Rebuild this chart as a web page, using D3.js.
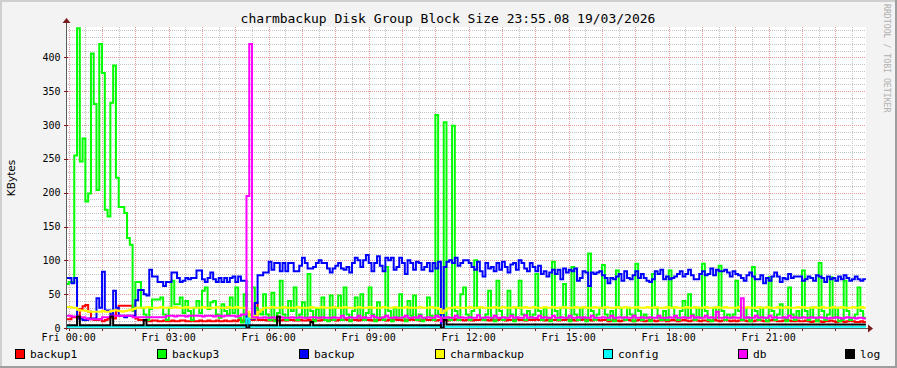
<!DOCTYPE html>
<html><head><meta charset="utf-8">
<script src="https://cdn.jsdelivr.net/npm/d3@7/dist/d3.min.js"></script>
<style>html,body{margin:0;padding:0;background:#f3f3f3;}svg{display:block}</style>
</head><body><svg id="c" width="897" height="368"></svg>
<script>
// ---- DATA (5-minute steps, index 0 = 23:55 Thu, 288 steps) ----
const seriesNames = ["backup1","backup3","backup","charmbackup","config","db","log"];
const seriesColors = ["#FF0000","#00FF00","#0000FF","#FFFF00","#00FFFF","#FF00FF","#000000"];

const backup1 = [
13,13,16,16,16,28,32,34,24,13,12,12,13,10,12,14,16,14,26,33,33,33,33,33,
26,14,12,12,11,11,10,11,11,10,10,11,10,10,11,10,10,11,11,10,10,11,10,10,
11,10,10,11,10,10,11,10,10,11,10,10,11,10,12,11,10,12,14,12,37,12,12,12,
11,12,11,12,11,11,12,11,12,12,11,11,12,11,11,12,11,12,11,11,12,12,11,12,
12,11,12,12,13,12,11,12,12,11,12,13,12,12,11,12,12,13,12,11,12,12,13,12,
12,11,12,12,13,12,12,11,12,13,12,12,12,11,12,14,12,11,12,12,13,12,12,11,
12,12,11,12,12,13,12,12,11,12,12,12,13,12,11,12,12,12,13,12,12,11,12,12,
12,13,12,12,11,12,13,12,12,11,12,12,13,12,12,11,12,12,13,12,12,11,12,12,
11,12,12,10,11,12,11,10,11,12,12,11,10,11,12,11,10,11,12,11,10,11,11,12,
10,11,12,11,10,11,12,11,10,11,12,11,10,11,11,10,11,12,11,10,11,12,11,10,
11,10,11,12,11,10,11,10,11,12,11,10,10,11,12,11,10,10,11,12,11,10,10,11,
10,10,11,10,9,10,11,10,9,10,10,11,10,9,10,10,9,10,11,10,9,9,10,9];

const backup3 = [
65,68,68,255,443,246,280,187,199,406,331,204,420,377,175,165,333,388,222,179,179,170,133,123,
26,68,68,30,20,12,28,42,42,42,45,20,12,30,70,35,35,45,22,40,25,12,30,40,
22,55,60,28,38,40,20,15,35,25,20,45,22,60,15,8,50,8,20,60,30,25,20,50,
20,12,52,10,22,70,20,12,40,25,60,12,20,38,15,80,25,10,28,15,45,12,10,48,
12,30,48,12,60,20,10,25,45,15,50,12,22,60,20,10,38,15,12,90,25,10,30,15,
50,15,10,40,18,48,12,20,10,15,45,18,12,315,20,10,304,15,12,299,25,12,50,60,
20,12,25,100,30,15,12,20,55,15,10,70,25,12,15,55,20,10,30,70,20,12,25,15,
20,80,25,12,30,15,10,98,25,12,30,65,15,10,90,20,12,30,15,10,110,25,12,20,
30,93,20,12,25,10,85,30,15,12,30,20,10,95,25,12,20,15,10,80,30,15,12,25,
12,85,30,15,12,25,40,15,50,20,12,30,15,95,25,12,10,30,15,92,25,12,20,15,
20,70,25,12,30,15,10,90,25,12,30,15,10,75,25,12,20,35,15,10,60,20,12,25,
15,85,25,12,30,15,10,96,25,12,20,75,15,30,10,12,70,25,12,15,20,60,25,15];

const backup = [
74,74,66,74,14,14,12,12,14,14,14,44,30,83,26,26,20,55,30,18,18,16,18,18,
18,41,56,56,50,48,86,76,76,68,68,62,68,68,82,82,74,68,70,74,72,74,74,85,
85,72,68,74,82,72,68,74,68,74,68,74,76,68,76,70,70,0,14,14,37,78,78,82,
82,98,86,96,96,84,96,84,96,96,84,84,92,104,96,88,88,90,96,100,96,96,88,82,
88,92,96,88,86,90,82,96,104,100,90,100,108,96,84,96,106,92,84,104,100,104,86,90,
104,96,80,100,96,86,98,96,86,90,96,84,96,88,98,2,90,98,100,96,104,92,96,100,
100,96,90,86,98,84,76,96,88,90,84,96,86,98,90,82,94,96,86,100,96,88,84,96,
90,84,92,80,84,76,82,86,80,86,72,88,82,86,84,88,70,74,84,82,62,82,80,82,
84,78,74,66,74,72,76,80,70,84,74,72,78,84,74,80,74,70,68,72,84,80,86,72,
76,72,74,76,80,84,76,80,86,78,72,72,80,84,78,80,88,78,86,84,84,86,82,76,
84,80,78,74,70,78,82,76,72,72,78,66,74,70,76,82,76,68,74,72,80,74,76,76,
76,70,72,76,74,70,78,76,74,68,76,72,74,70,76,72,78,74,70,72,76,72,70,72];

const charmbackup = [
31,31,30,30,27,26,26,25,24,24,24,24,24,25,24,24,25,26,26,25,24,25,26,27,
28,30,30,30,30,31,30,30,30,30,31,30,30,30,30,31,30,30,30,31,30,30,30,30,
30,31,30,30,30,30,31,30,30,30,31,30,30,31,30,30,30,24,15,15,18,24,27,30,
30,30,31,30,30,30,31,30,30,30,30,31,30,30,30,30,31,30,30,30,31,30,30,30,
31,30,30,30,31,30,30,30,30,31,30,30,30,31,30,30,30,30,31,30,30,30,31,30,
30,30,31,30,30,30,30,31,30,30,30,31,30,30,28,22,26,29,30,30,31,30,30,30,
30,31,30,30,30,31,30,30,30,30,31,30,30,31,30,30,30,31,30,30,30,31,30,30,
31,30,30,30,31,30,30,31,30,30,30,31,30,30,30,31,30,30,31,30,30,30,31,30,
30,30,31,30,30,30,31,30,30,31,30,30,30,31,30,30,30,31,30,30,31,30,30,30,
31,30,30,31,30,30,30,31,30,30,31,30,30,30,31,30,30,30,31,30,30,31,30,30,
30,30,31,30,30,31,30,30,30,31,30,30,31,30,30,30,31,30,30,31,30,30,30,31,
30,31,30,30,30,31,30,30,31,30,30,30,31,30,30,31,30,30,30,31,30,30,31,30];

const config = [
2,2,2,2,2,2,2,2,2,2,2,2,2,2,2,2,2,2,2,2,2,2,2,2,
2,2,2,2,2,2,2,2,2,2,2,2,2,2,2,2,2,2,2,2,2,2,2,2,
2,2,2,2,2,2,2,2,2,2,2,2,2,2,2,2,2,14,2,2,2,2,2,2,
2,2,2,2,2,2,2,2,2,2,2,2,2,2,2,2,2,2,2,2,2,2,2,2,
2,2,2,2,2,2,2,2,2,2,2,2,2,2,2,2,2,2,2,2,2,2,2,2,
2,2,2,2,2,2,2,2,2,2,2,2,2,2,2,2,2,2,2,2,2,2,2,2,
2,2,2,2,2,2,2,2,2,2,2,2,2,2,2,2,2,2,2,2,2,2,2,2,
2,2,2,2,2,2,2,2,2,2,2,2,2,2,2,2,2,2,2,2,2,2,2,2,
2,2,2,2,2,2,2,2,2,2,2,2,2,2,2,2,2,2,2,2,2,2,2,2,
2,2,2,2,2,2,2,2,2,2,2,2,2,2,2,2,2,2,2,2,2,2,2,2,
2,2,2,2,2,2,2,2,2,2,2,2,2,2,2,2,2,2,2,2,2,2,2,2,
2,2,2,2,2,2,2,2,2,2,2,2,2,2,2,2,2,2,2,2,2,2,2,2];

const db = [
18,18,17,17,16,16,16,14,13,13,13,13,13,16,16,16,18,18,18,18,18,18,18,18,
16,16,16,16,16,16,16,16,16,16,16,16,18,18,18,17,18,18,18,17,18,18,18,18,
18,17,18,18,18,17,18,18,17,18,18,18,18,17,18,20,20,195,420,16,16,15,15,16,
15,15,16,15,15,16,15,15,15,16,15,15,16,15,15,15,16,16,15,15,16,15,15,15,
16,15,15,18,15,15,16,15,15,18,15,16,15,15,18,16,15,15,16,18,15,15,16,15,
15,16,18,15,15,16,15,18,15,15,16,15,15,18,16,10,15,16,15,15,18,15,16,15,
15,16,15,15,19,15,15,16,15,15,18,15,15,16,15,15,18,15,16,15,15,19,15,16,
15,15,18,15,16,15,15,18,15,15,16,15,15,18,15,15,16,15,16,15,15,18,15,15,
15,16,15,15,18,15,15,16,15,16,15,15,18,15,15,16,15,15,16,15,15,18,15,15,
15,16,15,18,15,15,16,15,15,18,15,16,15,15,18,15,16,15,24,15,15,16,15,15,
16,15,15,44,15,16,15,15,18,15,16,15,15,18,15,16,15,15,16,15,18,15,16,15,
15,16,15,15,16,15,15,16,15,15,14,15,15,16,15,14,15,16,15,15,14,15,15,14];

const log = [
4,4,4,4,17,4,4,4,4,4,4,4,4,4,4,4,17,4,4,4,4,4,4,4,
4,4,4,4,12,4,4,4,4,4,4,4,4,4,4,4,4,4,4,4,4,4,4,4,
4,4,4,4,4,4,4,4,4,4,4,4,4,4,4,4,4,0,4,4,4,4,4,4,
4,4,4,4,17,4,4,4,4,4,4,4,4,4,4,4,9,4,4,4,4,4,4,4,
4,4,4,4,4,4,4,4,4,4,4,4,4,4,4,4,4,4,4,4,4,4,4,4,
4,4,4,4,4,4,4,4,4,4,4,4,4,4,4,0,12,5,5,5,5,5,5,5,
5,5,5,5,5,5,5,5,5,5,5,5,5,5,5,5,5,5,5,5,5,5,5,5,
5,5,5,5,5,5,5,5,5,5,5,5,5,5,5,5,5,5,5,5,5,5,5,5,
5,5,5,5,5,5,5,5,5,5,5,5,5,5,5,5,5,5,5,5,5,5,5,5,
5,5,5,5,5,5,5,5,5,5,5,5,5,5,5,5,5,5,5,5,5,5,5,5,
5,5,5,5,5,5,5,5,5,5,5,5,5,5,5,5,5,5,5,5,5,5,5,5,
5,5,5,5,5,5,5,5,5,5,5,5,5,5,5,5,5,5,5,5,5,5,5,5];

const yTickValues = [0,50,100,150,200,250,300,350,400];
const xTickHours = [0,3,6,9,12,15,18,21];
const xTickLabels = ["Fri 00:00","Fri 03:00","Fri 06:00","Fri 09:00","Fri 12:00","Fri 15:00","Fri 18:00","Fri 21:00"];
const titleText = "charmbackup Disk Group Block Size 23:55.08 19/03/2026";
const yAxisTitle = "KBytes";
const watermark = "RRDTOOL / TOBI OETIKER";

// ---- DRAWING ----
const svg = d3.select("#c");
const W = 897, H = 368;
const L = 66, R = 866, T = 27, B = 328;
const STEP = 5; // minutes
const x = d3.scaleLinear().domain([-4.867, 1440 - 4.867]).range([L, R]);
const y = d3.scaleLinear().domain([0, 445]).range([B, T]);
const mono = "'DejaVu Sans Mono', monospace";

// frame
svg.append("rect").attr("x",0).attr("y",0).attr("width",W).attr("height",H).attr("fill","#f3f3f3");
svg.append("rect").attr("x",0).attr("y",0).attr("width",W).attr("height",2).attr("fill","#cfcfcf");
svg.append("rect").attr("x",0).attr("y",0).attr("width",2).attr("height",H).attr("fill","#cfcfcf");
svg.append("rect").attr("x",0).attr("y",H-2).attr("width",W).attr("height",2).attr("fill","#9e9e9e");
svg.append("rect").attr("x",W-2).attr("y",0).attr("width",2).attr("height",H).attr("fill","#9e9e9e");

// canvas
svg.append("rect").attr("x",L).attr("y",T).attr("width",R-L).attr("height",B-T).attr("fill","#ffffff");

// grid
const g = svg.append("g").attr("shape-rendering","crispEdges");
const minorY = d3.range(10, 445, 10).filter(v => v % 50 !== 0);
const majorY = d3.range(50, 445, 50);
g.selectAll(".hmin").data(minorY).join("line")
  .attr("x1",L).attr("x2",R).attr("y1",d=>Math.round(y(d))+0.5).attr("y2",d=>Math.round(y(d))+0.5)
  .attr("stroke","#c4c4c4").attr("stroke-dasharray","1,1");
const minorX = d3.range(-0, 1440, 30).filter(m => m % 60 !== 0);
const majorX = d3.range(0, 1440, 60);
g.selectAll(".vmin").data(minorX).join("line")
  .attr("y1",T).attr("y2",B).attr("x1",d=>Math.round(x(d))+0.5).attr("x2",d=>Math.round(x(d))+0.5)
  .attr("stroke","#c4c4c4").attr("stroke-dasharray","1,1");
g.selectAll(".hmaj").data(majorY).join("line")
  .attr("x1",L).attr("x2",R).attr("y1",d=>Math.round(y(d))+0.5).attr("y2",d=>Math.round(y(d))+0.5)
  .attr("stroke","#e99a9a").attr("stroke-dasharray","1,1");
g.selectAll(".vmaj").data(majorX).join("line")
  .attr("y1",T).attr("y2",B).attr("x1",d=>Math.round(x(d))+0.5).attr("x2",d=>Math.round(x(d))+0.5)
  .attr("stroke","#e99a9a").attr("stroke-dasharray","1,1");

// series
const seriesValues = [backup1, backup3, backup, charmbackup, config, db, log];
const series = seriesNames.map((n,k)=>({name:n, color:seriesColors[k], values:seriesValues[k]}));
svg.append("clipPath").attr("id","clip").append("rect").attr("x",L).attr("y",T-3).attr("width",R-L).attr("height",B-T+4);
const line = d3.line().x(d=>x(d.t)).y(d=>y(d.v)).curve(d3.curveStepAfter);
const lg = svg.append("g").attr("clip-path","url(#clip)");
series.forEach(s=>{
  const pts = s.values.map((v,i)=>({t:(i-1)*STEP, v}));
  pts.push({t:(s.values.length-1)*STEP, v:s.values[s.values.length-1]});
  lg.append("path").attr("d",line(pts)).attr("fill","none").attr("stroke",s.color)
    .attr("stroke-width",2).attr("stroke-linejoin","miter");
});

// axes
const axisColor = "#5a5a5a", arrowColor = "#7a1a1a";
svg.append("line").attr("x1",L+0.5).attr("x2",L+0.5).attr("y1",B+2).attr("y2",T-4).attr("stroke",axisColor).attr("stroke-width",1);
svg.append("line").attr("x1",L-2).attr("x2",R+2).attr("y1",B+0.5).attr("y2",B+0.5).attr("stroke",axisColor).attr("stroke-width",1);
svg.append("path").attr("d",`M${L-3.5},${T-4} L${L+4.5},${T-4} L${L+0.5},${T-9} Z`).attr("fill",arrowColor);
svg.append("path").attr("d",`M${R+2},${B-3.5} L${R+2},${B+4.5} L${R+7},${B+0.5} Z`).attr("fill",arrowColor);
// ticks
svg.selectAll(".yt").data(yTickValues).join("line")
  .attr("x1",L-2).attr("x2",L+2).attr("y1",d=>Math.round(y(d))+0.5).attr("y2",d=>Math.round(y(d))+0.5)
  .attr("stroke",arrowColor);
svg.selectAll(".xt").data(majorX).join("line")
  .attr("y1",B+1).attr("y2",B+3).attr("x1",d=>Math.round(x(d))+0.5).attr("x2",d=>Math.round(x(d))+0.5)
  .attr("stroke",arrowColor);

// labels
svg.selectAll(".yl").data(yTickValues).join("text")
  .attr("x",60.5).attr("y",d=>y(d)+3.5).attr("text-anchor","end")
  .attr("font-family",mono).attr("font-size","10px").attr("fill","#000").text(d=>d);
svg.selectAll(".xl").data(xTickHours).join("text")
  .attr("x",d=>x(d*60)).attr("y",341).attr("text-anchor","middle")
  .attr("font-family",mono).attr("font-size","10px").attr("fill","#000").text((d,i)=>xTickLabels[i]);
svg.append("text").attr("x",448).attr("y",23).attr("text-anchor","middle")
  .attr("font-family",mono).attr("font-size","13px").attr("fill","#000").text(titleText);
svg.append("text").attr("transform","translate(15,178) rotate(-90)").attr("text-anchor","middle")
  .attr("font-family","'DejaVu Sans', sans-serif").attr("font-size","10.5px").attr("fill","#000").text(yAxisTitle);
svg.append("text").attr("transform","translate(884,4) rotate(90)").attr("text-anchor","start")
  .attr("font-family",mono).attr("font-size","8.2px").attr("fill","#b0b0b0").text(watermark);

// legend
const legendX = [15,157,299,435,603,738,845];
series.forEach((s,k)=>{
  svg.append("rect").attr("x",legendX[k]+0.5).attr("y",349.5).attr("width",9).attr("height",9)
    .attr("fill",s.color).attr("stroke","#000").attr("stroke-width",1);
  svg.append("text").attr("x",legendX[k]+15).attr("y",358).attr("font-family",mono)
    .attr("font-size","11.2px").attr("fill","#000").text(s.name);
});
</script></body></html>
